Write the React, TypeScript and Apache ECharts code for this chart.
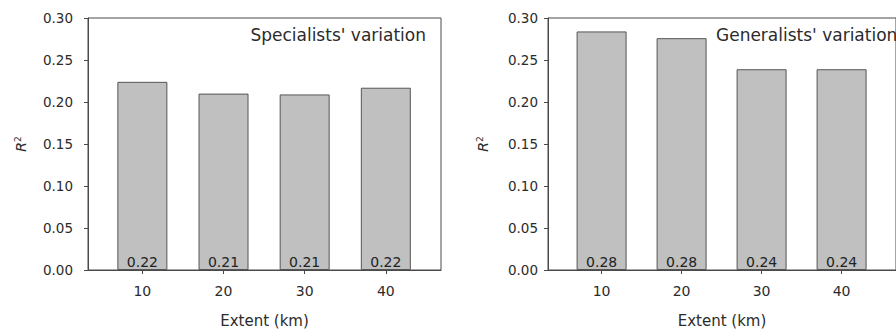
import React, { useEffect, useRef } from "react";
import * as echarts from "echarts";

const extents = [10, 20, 30, 40];
const specialistsR2 = [0.224, 0.21, 0.209, 0.217];
const generalistsR2 = [0.284, 0.276, 0.239, 0.239];
const panelTitles = ["Specialists' variation", "Generalists' variation"];
const xAxisName = "Extent (km)";
const yAxisName = "{i|R}{s|2}";

const FONT = "DejaVu Sans";
const TEXT = "#2b2b2b";
const LINE = "#4a4a4a";

export default function App() {
  const ref = useRef<HTMLDivElement>(null);

  useEffect(() => {
    if (!ref.current) return;
    const chart = echarts.init(ref.current, null, { renderer: "svg" });
    const panels = [specialistsR2, generalistsR2];
    const lefts = [88, 548];
    const yLabelMargins = [15, 10];
    const yNameGaps = [59, 57];

    const option: any = {
      animation: false,
      backgroundColor: "#fff",
      grid: lefts.map((l) => ({
        left: l,
        top: 18,
        width: 353,
        height: 257,
        show: true,
        borderColor: LINE,
        borderWidth: 1,
        backgroundColor: "transparent",
        containLabel: false,
      })),
      xAxis: lefts.map((_, i) => ({
        type: "value",
        gridIndex: i,
        min: 3.3,
        max: 46.8,
        splitLine: { show: false },
        axisLine: { show: true, onZero: false, lineStyle: { color: LINE, width: 1 } },
        axisTick: { show: true, customValues: extents, length: 4, lineStyle: { color: LINE } },
        axisLabel: {
          customValues: extents,
          fontSize: 14,
          color: TEXT,
          fontFamily: FONT,
          margin: 14,
        },
        name: xAxisName,
        nameLocation: "middle",
        nameGap: 43,
        nameTextStyle: { fontSize: 15, color: TEXT, fontFamily: FONT },
      })),
      yAxis: lefts.map((_, i) => ({
        type: "value",
        gridIndex: i,
        min: 0,
        max: 0.3,
        interval: 0.05,
        splitLine: { show: false },
        axisLine: { show: true, lineStyle: { color: LINE, width: 1 } },
        axisTick: { show: true, length: 4, lineStyle: { color: LINE } },
        axisLabel: {
          formatter: (v: number) => v.toFixed(2),
          fontSize: 13.5,
          color: TEXT,
          fontFamily: FONT,
          margin: yLabelMargins[i],
        },
        name: yAxisName,
        nameLocation: "middle",
        nameRotate: 90,
        nameGap: yNameGaps[i],
        nameTextStyle: {
          color: TEXT,
          fontFamily: FONT,
          rich: {
            i: { fontStyle: "italic", fontSize: 14, color: TEXT, fontFamily: FONT, lineHeight: 16 },
            s: { fontSize: 9, color: TEXT, fontFamily: FONT, verticalAlign: "top", lineHeight: 9 },
          },
        },
      })),
      series: panels.map((vals, i) => ({
        type: "bar",
        xAxisIndex: i,
        yAxisIndex: i,
        barWidth: 50,
        data: extents.map((x, j) => [x, vals[j]]),
        itemStyle: { color: "#c0c0c0", borderColor: "#555", borderWidth: 1 },
        label: {
          show: true,
          position: "insideBottom",
          distance: 1,
          formatter: (p: any) => Number(p.value[1]).toFixed(2),
          fontSize: 14,
          color: "#222",
          fontFamily: FONT,
        },
      })),
      graphic: [
        {
          type: "text",
          x: 426,
          y: 35,
          style: {
            text: panelTitles[0],
            align: "right",
            verticalAlign: "middle",
            fontSize: 17,
            fill: TEXT,
            fontFamily: FONT,
          },
        },
        {
          type: "text",
          x: 716,
          y: 35,
          style: {
            text: panelTitles[1],
            align: "left",
            verticalAlign: "middle",
            fontSize: 17,
            fill: TEXT,
            fontFamily: FONT,
          },
        },
      ],
    };

    chart.setOption(option);
    return () => chart.dispose();
  }, []);

  return (
    <div
      ref={ref}
      style={{ position: "absolute", left: 0, top: 0, width: 896, height: 333, overflow: "hidden" }}
    />
  );
}
